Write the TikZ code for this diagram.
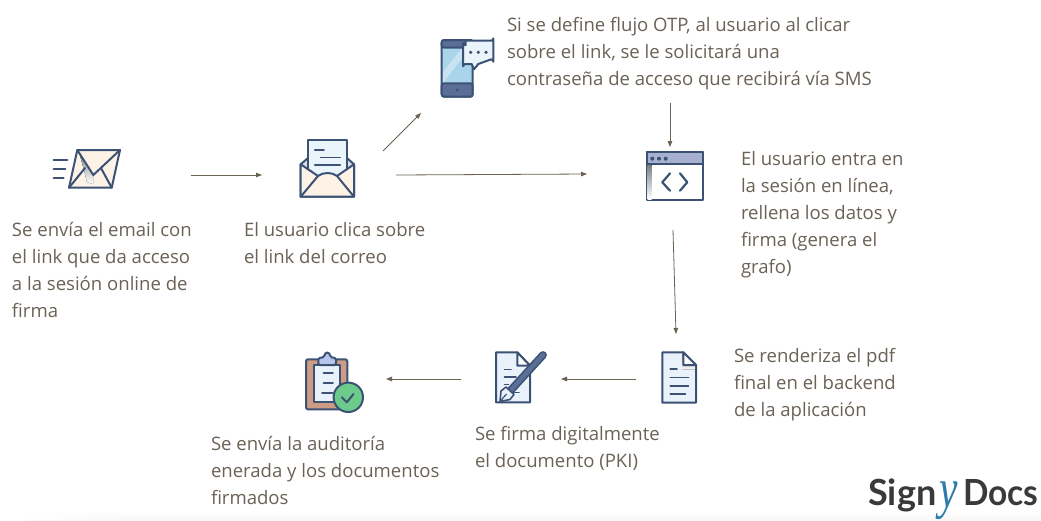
\documentclass[tikz,border=0pt]{standalone}
\usepackage{fontspec}
\setmainfont{Open Sans}
\newfontfamily\logofont{Lato}
\newfontfamily\ymarkfont{Liberation Serif}
\usetikzlibrary{arrows.meta,fadings}
\definecolor{txt}{HTML}{6A6256}
\definecolor{arr}{HTML}{6B6254}
\definecolor{ink}{HTML}{3C5275}
\definecolor{cream}{HTML}{FDF2E6}
\definecolor{pale}{HTML}{EAF4FB}
\definecolor{paper}{HTML}{E9F1FA}
\definecolor{shade}{HTML}{C9D0E2}
\definecolor{lblue}{HTML}{A9D4EA}
\definecolor{bar}{HTML}{5A6E96}
\definecolor{tbar}{HTML}{A7B0CF}
\definecolor{board}{HTML}{CE9C84}
\definecolor{clip}{HTML}{B6C6EA}
\definecolor{okgreen}{HTML}{6CCB8A}
\definecolor{logoink}{HTML}{3A3A3A}
\definecolor{logoblue}{HTML}{2F7CAC}
\tikzset{
  x=1pt,y=-1pt,
  label text/.style={anchor=north west,inner sep=0pt,outer sep=0pt,align=left,text=txt,font=\fontsize{18.55}{27}\selectfont},
  flow/.style={draw=arr,line width=0.8pt,-{Triangle[length=6pt,width=4.5pt]},shorten >=0pt},
  icon/.style={draw=ink,line width=2pt,line join=round,line cap=round},
  thin icon/.style={draw=ink,line width=1.6pt,line cap=round},
  logo text/.style={anchor=base west,inner sep=0pt,text=logoink,font=\logofont\fontsize{36}{36}\selectfont\bfseries},
}
\begin{document}
\begin{tikzpicture}
\useasboundingbox (0,0) rectangle (1041,520);
\fill[white] (0,0) rectangle (1041,520);
\shade[top color=white,bottom color=black!3] (30,510) rectangle (1041,520);
\fill[white,path fading=east] (30,509) rectangle (130,520);

% send envelope
\filldraw[icon,fill=cream] (77.3,150)--(120,150)--(111.7,187.7)--(69,187.7)--cycle;
\fill[shade] (79,152)--(93.3,175)--(93,184)--(87,182)--(84,170)--cycle;
\draw[icon] (77.3,150)--(93.3,175)--(120,150);
\draw[icon] (69,187.7)--(85,168);
\draw[icon] (111.7,187.7)--(101,168);
\draw[thin icon] (53.5,159.7)--(67.5,159.7) (53.5,169)--(65.5,169) (53.5,178)--(63.8,178);

% open envelope
\filldraw[icon,fill=shade!70!white] (300.7,196.7)--(300.7,164.3)--(307.7,158.3)--(347.3,158.3)--(354,164.3)--(354,196.7)--cycle;
\filldraw[icon,fill=pale] (307.7,182)--(307.7,140)--(347.3,140)--(347.3,182)--cycle;
\filldraw[icon,fill=cream] (300.7,164.3)--(318,176) .. controls (323,172) and (332,172) .. (337,176)--(354,164.3)--(354,196.7)--(300.7,196.7)--cycle;
\draw[icon] (300.7,196.7)--(318,176);
\draw[icon] (354,196.7)--(337,176);
\draw[thin icon] (314.8,150)--(324,150) (320.5,157.3)--(340.3,157.3) (314.8,164.7)--(340.3,164.7);

% phone with speech bubble
\filldraw[icon,fill=lblue,rounded corners=2.5pt] (441.7,40) rectangle (472.7,96.7);
\fill[white,opacity=.35] (443,72)--(462,48)--(470,48)--(443,83)--cycle;
\filldraw[icon,fill=bar,rounded corners=2.5pt] (441.7,47.7)--(441.7,40)--(472.7,40)--(472.7,47.7)--cycle;
\filldraw[icon,fill=bar,rounded corners=2.5pt] (441.7,83.3)--(472.7,83.3)--(472.7,96.7)--(441.7,96.7)--cycle;
\fill[ink] (457.2,90) circle (1.6);
\filldraw[icon,fill=pale] (465.5,40.7)--(491,40.7) arc[start angle=90,end angle=0,radius=2.3]--(493.3,61.7) arc[start angle=0,end angle=-90,radius=2.3]--(478.3,64)--(474,69.3)--(471.7,64)--(465.5,64) arc[start angle=-90,end angle=-180,radius=2.3]--(463.2,43) arc[start angle=180,end angle=90,radius=2.3]--cycle;
\foreach \dx in {470.7,478.3,486} \fill[ink] (\dx,52.3) circle (1.8);

% browser window
\filldraw[icon,fill=white] (646.7,152.3) rectangle (702.7,200);
\fill[shade] (647.6,165) rectangle (651.5,199);
\filldraw[icon,fill=tbar] (646.7,152.3) rectangle (702.7,164.3);
\foreach \dx in {652.3,659,665.7} \fill[ink] (\dx,158.7) circle (2);
\draw[icon,line width=2.2pt] (670,173.3)--(662.3,182.3)--(670,190.7);
\draw[icon,line width=2.2pt] (680,173.3)--(687.3,182.3)--(680,190.7);

% rendered document
\filldraw[icon,fill=paper] (662.3,352.3)--(683.3,352.3)--(696,365)--(696,402.7)--(662.3,402.7)--cycle;
\fill[shade] (682.5,353.5)--(682.5,369.5)--(695,369.5)--(695,365.7)--cycle;
\filldraw[icon,fill=white] (683.3,352.3)--(683.3,365)--(696,365)--cycle;
\draw[thin icon] (670.2,369)--(677,369) (670.2,377.3)--(688.5,377.3) (670.2,385.7)--(688.5,385.7) (670.2,394)--(685.5,394);

% signed document with pen
\filldraw[icon,fill=paper] (496,352.3)--(517.3,352.3)--(530,365.7)--(530,402.3)--(496,402.3)--cycle;
\filldraw[icon,fill=white] (517.3,352.3)--(517.3,365.7)--(530,365.7)--cycle;
\draw[thin icon] (504.5,369.3)--(511,369.3) (504.5,376.7)--(516,376.7) (504.5,384.3)--(508.5,384.3) (513.5,392.3)--(519,392.3);
\draw[draw=ink,line width=7.8pt,line cap=round] (543,355)--(511,390);
\draw[draw=bar,line width=4.6pt,line cap=round] (543,355)--(511,390);
\filldraw[icon,line width=1.6pt,fill=paper] (500,401.5)--(501,391)--(506,387)--(514,394.5)--(510,399.5)--cycle;
\draw[draw=ink,line width=1.2pt] (500,401.5)--(506.5,394);

% clipboard with check mark
\filldraw[icon,fill=board,rounded corners=2pt] (306,359.3) rectangle (347.3,409.3);
\filldraw[icon,fill=paper] (314,365) rectangle (340,401.7);
\filldraw[icon,fill=clip,rounded corners=1.5pt] (318.3,365)--(318.3,358)--(324,357.3) .. controls (325,351.5) and (329.5,351.5) .. (330.5,357.3)--(336,358)--(336,365)--cycle;
\draw[thin icon] (323.5,373)--(333,373) (323.5,382.7)--(333,382.7) (322,392.7)--(333,392.7);
\filldraw[icon,fill=okgreen] (348.3,397.3) circle (14.7);
\draw[icon] (341.8,397.3)--(346.8,402.3)--(353.5,394);

% connectors
\coordinate (mailOut) at (191,175);
\coordinate (openIn) at (262,175);
\coordinate (openUp) at (383,151);
\coordinate (phoneIn) at (421,113);
\coordinate (openOut) at (396,175);
\coordinate (webIn) at (587,174);
\coordinate (otpOut) at (670,103);
\coordinate (webTop) at (670,147);
\coordinate (webOut) at (673,230);
\coordinate (pdfTop) at (676,334);
\coordinate (pdfOut) at (636,379);
\coordinate (signIn) at (561,379);
\coordinate (signOut) at (461,379);
\coordinate (auditIn) at (386,379);
\draw[flow] (mailOut)--(openIn);
\draw[flow] (openUp)--(phoneIn);
\draw[flow] (openOut)--(webIn);
\draw[flow] (otpOut)--(webTop);
\draw[flow] (webOut)--(pdfTop);
\draw[flow] (pdfOut)--(signIn);
\draw[flow] (signOut)--(auditIn);

% labels
\node[label text] (t1) at (12,222) {Se envía el email con\\el link que da acceso\\a la sesión online de\\firma};
\node[label text] (t2) at (244,222) {El usuario clica sobre\\el link del correo};
\node[label text] (t3) at (507,17.5) {Si se define flujo OTP, al usuario al clicar\\sobre el link, se le solicitará una\\contraseña de acceso que recibirá vía SMS};
\node[label text] (t4) at (741,151.5) {El usuario entra en\\la sesión en línea,\\rellena los datos y\\firma (genera el\\grafo)};
\node[label text] (t5) at (734,348.5) {Se renderiza el pdf\\final en el backend\\de la aplicación};
\node[label text] (t6) at (475,426.5) {Se firma digitalmente\\el documento (PKI)};
\node[label text] (t7) at (211,436) {Se envía la auditoría\\enerada y los documentos\\firmados};

% logo
\node[logo text] (sign) at (868,505.5) {Sign};
\node[logo text,xscale=.93] (docs) at (963,505.5) {Docs};
\node[anchor=base,inner sep=0pt,text=logoblue,font=\ymarkfont\fontsize{56}{56}\selectfont\itshape,xscale=.74] (ymark) at (949,507) {y};
\end{tikzpicture}
\end{document}
